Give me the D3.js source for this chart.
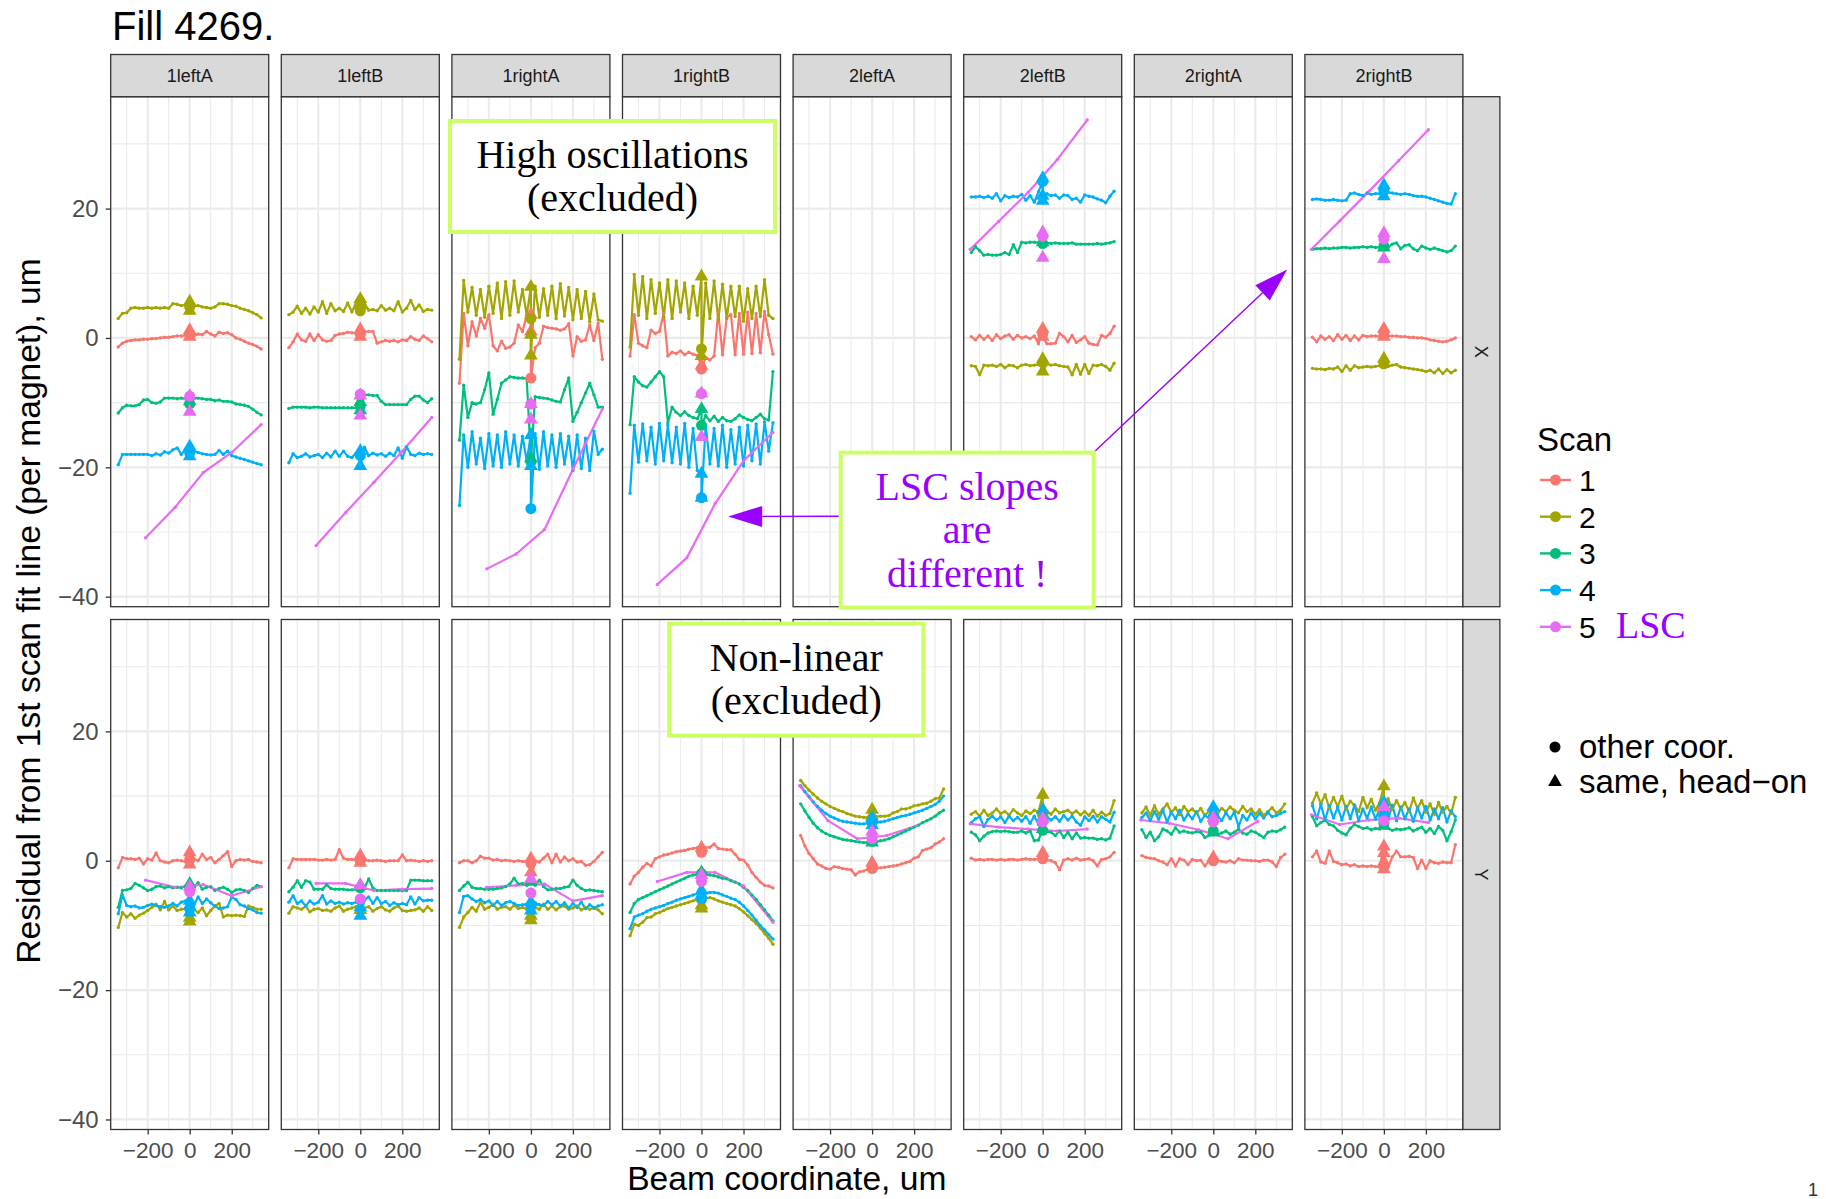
<!DOCTYPE html>
<html>
<head>
<meta charset="utf-8">
<script src="https://cdn.jsdelivr.net/npm/d3@7"></script>
<style>
  html, body { margin: 0; padding: 0; background: #ffffff; }
  svg { display: block; }
</style>
</head>
<body>
<svg id="chart" width="1826" height="1199"></svg>
<script>
// ---------------------------------------------------------------------------
// Fill 4269: residual of each BPM reading from the 1st-scan fit line,
// per magnet (columns) and per coordinate (rows), for five scans.
// ---------------------------------------------------------------------------

const MAGNETS = ["1leftA", "1leftB", "1rightA", "1rightB", "2leftA", "2leftB", "2rightA", "2rightB"];
const COORDS = ["X", "Y"];
const SCAN_LABELS = ["1", "2", "3", "4", "5"];
const SCAN_COLORS = ["#F8766D", "#A3A500", "#00BF7D", "#00B0F6", "#E76BF3"];
const SHAPE_LABELS = ["other coor.", "same, head\u2212on"];

const X_TICKS = [-200, 0, 200];
const X_MINOR = [-300, -100, 100, 300];
const Y_TICKS = [-40, -20, 0, 20];
const Y_MINOR = [-30, -10, 10, 30];

// Beam positions of the scan points (the head-on points at 0 are listed separately)
const BEAM_X = [-340, -320, -300, -280, -260, -240, -220, -200, -180, -160, -140, -120, -100, -80, -60, -40, -20,
                20, 40, 60, 80, 100, 120, 140, 160, 180, 200, 220, 240, 260, 280, 300, 320, 340];
// Length-scale calibration (scan 5) steps for the two groups of magnets
const LSC_X_1 = [-210, -70, 65, 200, 340];
const LSC_X_2 = [-345, -210, -70, 70, 212];

// ---- X coordinate --------------------------------------------------------
// each panel: scans 1..4 at BEAM_X; *_LSC: scan 5; *_ZERO: [scan, shape, residual] at beam 0
const X_1leftA = [
  [-1.4,-0.8,-0.5,-0.4,-0.3,-0.3,-0.2,-0.2,-0.1,-0.1,0.0,0.1,0.1,0.2,0.3,0.3,0.4, 0.3,0.6,0.5,1.0,0.6,0.3,0.9,0.7,0.8,0.5,0.0,-0.2,-0.5,-0.8,-1.0,-1.3,-1.7],
  [3.0,3.8,3.9,4.6,4.7,4.6,4.6,4.7,4.6,4.7,4.6,4.7,4.6,5.3,5.2,5.0,5.1, 4.9,5.0,4.8,4.7,4.6,4.8,5.3,5.3,5.2,5.0,4.9,4.6,4.4,4.2,3.9,3.6,3.1],
  [-11.6,-10.8,-10.4,-10.5,-10.5,-10.3,-9.6,-9.5,-10.0,-10.1,-9.9,-9.3,-9.3,-9.3,-9.4,-9.3,-9.4, -9.3,-9.3,-9.4,-9.5,-9.5,-9.7,-9.6,-9.8,-9.8,-9.9,-10.2,-10.3,-10.4,-10.6,-11.0,-11.5,-11.9],
  [-19.6,-18.0,-18.0,-18.0,-18.0,-18.0,-18.0,-18.0,-18.2,-17.9,-18.1,-17.6,-17.8,-17.3,-17.0,-18.0,-17.2, -17.5,-17.7,-17.9,-18.0,-18.1,-18.0,-17.4,-18.0,-17.5,-18.2,-18.4,-18.6,-18.8,-19.0,-19.2,-19.4,-19.6]
];
const X_1leftA_LSC = [-30.9, -26.2, -20.8, -17.7, -13.4];
const X_1leftA_ZERO = [[1,"t",1.2],[1,"c",0.5],[1,"t",0.2],[2,"t",5.6],[2,"c",4.8],[2,"t",4.2],[3,"t",-9.8],[3,"c",-10.2],
  [4,"t",-16.8],[4,"c",-17.8],[4,"t",-18.3],[5,"c",-9.0],[5,"t",-9.0],[5,"t",-11.4]];

const X_1leftB = [
  [-1.5,-0.6,0.6,-0.3,-0.5,0.6,-0.4,0.5,-0.3,-0.5,-0.4,0.4,0.6,0.7,0.9,0.8,0.7, 1.0,1.0,1.0,-0.8,-0.6,-0.4,-0.5,-0.4,-0.6,-0.3,-0.4,0.2,-0.2,-0.4,0.3,-0.1,-0.6],
  [3.6,4.0,4.9,3.8,4.6,3.7,4.8,4.0,5.6,3.8,5.3,4.2,4.6,4.1,5.4,4.0,5.5, 5.3,4.3,4.4,4.2,5.0,4.3,4.6,4.2,5.6,4.0,4.6,5.8,4.4,5.1,4.1,4.4,4.3],
  [-10.9,-10.7,-10.7,-10.7,-10.7,-10.8,-10.7,-10.7,-10.8,-10.8,-10.8,-10.8,-10.8,-10.8,-10.8,-10.8,-10.8, -8.8,-8.8,-8.9,-8.9,-9.8,-10.3,-10.3,-10.3,-10.3,-10.3,-10.3,-9.5,-9.0,-9.0,-9.6,-10.0,-9.4],
  [-19.3,-17.9,-18.5,-18.3,-17.9,-18.4,-18.2,-18.0,-18.5,-17.8,-18.4,-17.5,-18.3,-17.5,-18.3,-18.5,-17.8, -16.9,-18.2,-17.8,-18.1,-17.9,-18.3,-17.8,-18.2,-17.0,-18.6,-16.8,-18.0,-18.2,-17.8,-18.0,-17.9,-18.0]
];
const X_1leftB_LSC = [-32.1, -27.0, -22.3, -17.5, -12.3];
const X_1leftB_ZERO = [[1,"t",1.3],[1,"c",0.6],[1,"t",0.2],[2,"t",6.0],[2,"c",4.2],[2,"t",5.0],[3,"t",-9.9],[3,"c",-10.5],[3,"t",-11.2],
  [4,"t",-17.5],[4,"c",-18.2],[4,"t",-19.8],[5,"c",-8.7],[5,"t",-8.9],[5,"t",-12.0]];

const X_1rightA = [
  [-7.0,3.8,-1.2,2.5,0.3,3.0,1.5,3.6,-1.2,-2.0,-0.5,-1.6,-1.4,-0.8,2.0,1.0,3.5, -1.5,-0.8,1.8,1.6,1.5,1.4,1.2,1.4,2.2,-2.8,0.2,-0.5,-0.3,2.0,-0.4,2.3,-3.3],
  [-3.3,8.9,4.0,7.8,3.5,7.5,3.2,8.0,3.8,8.5,3.0,8.7,3.5,8.8,4.0,7.5,3.5, 8.0,3.2,7.6,3.5,8.0,3.0,8.4,3.4,7.8,2.8,7.5,3.0,7.2,2.5,6.8,2.8,2.6],
  [-15.8,-7.3,-12.3,-10.0,-10.2,-10.0,-8.0,-5.4,-11.8,-9.5,-7.0,-6.5,-6.0,-6.1,-6.2,-6.2,-6.3, -9.1,-9.2,-9.3,-9.4,-9.6,-9.8,-9.9,-8.0,-6.2,-12.9,-11.5,-10.0,-8.5,-7.0,-8.8,-10.7,-10.7],
  [-25.9,-15.0,-20.0,-14.5,-19.5,-15.5,-20.2,-14.8,-19.8,-15.0,-20.0,-14.5,-19.5,-15.0,-19.8,-15.2,-19.0, -14.8,-20.3,-14.5,-19.8,-15.0,-20.0,-14.8,-19.5,-15.2,-20.5,-15.0,-20.2,-15.5,-20.5,-14.4,-18.0,-17.2]
];
const X_1rightA_LSC = [-35.7, -33.4, -29.6, -20.3, -11.0];
const X_1rightA_ZERO = [[1,"t",3.6],[1,"t",1.0],[1,"c",-6.2],[2,"t",7.9],[2,"c",3.0],[2,"t",0.5],[2,"t",-2.7],[3,"t",-18.6],[3,"c",-19.2],
  [4,"t",-15.0],[4,"t",-19.8],[4,"c",-26.4],[5,"c",-10.2],[5,"t",-10.2],[5,"t",-12.6]];

const X_1rightB = [
  [-2.8,3.6,-0.8,-1.2,-1.5,1.2,0.7,1.0,3.8,-2.8,-2.2,-2.4,-2.0,-2.6,-2.2,-2.5,-2.7, -3.0,-3.4,-2.8,4.0,-2.6,3.2,3.6,-2.6,3.8,-2.5,4.0,-2.4,3.8,-2.3,4.1,0.5,-2.5],
  [-1.4,9.8,3.5,9.5,3.0,9.0,3.8,8.5,3.2,9.0,3.0,8.8,4.0,8.5,3.0,8.0,3.5, 8.5,3.0,8.8,2.8,8.3,3.0,8.0,3.3,8.0,2.6,7.6,3.0,8.0,3.3,9.0,3.5,3.0],
  [-13.4,-6.0,-6.8,-7.4,-7.6,-6.8,-6.0,-5.2,-6.0,-13.1,-10.7,-11.5,-12.0,-11.4,-12.0,-12.3,-12.5, -12.0,-12.8,-12.1,-12.9,-12.3,-12.8,-12.9,-12.5,-11.9,-12.3,-12.6,-12.8,-12.3,-11.8,-12.5,-12.7,-5.2],
  [-24.0,-13.5,-19.2,-13.3,-19.0,-13.8,-19.5,-13.2,-19.0,-13.5,-19.3,-13.8,-19.5,-13.2,-20.0,-14.0,-20.5, -13.5,-19.5,-14.0,-19.8,-13.5,-20.0,-14.2,-19.5,-13.8,-19.8,-13.5,-19.0,-13.3,-19.5,-13.0,-17.5,-13.1]
];
const X_1rightB_LSC = [-38.1, -34.0, -25.6, -19.0, -14.6];
const X_1rightB_ZERO = [[1,"t",-4.3],[1,"c",-4.8],[2,"t",9.5],[2,"c",-1.7],[2,"t",-2.8],[3,"t",-11.0],[3,"c",-13.5],
  [4,"t",-21.0],[4,"c",-24.7],[4,"t",-24.7],[5,"c",-8.6],[5,"t",-8.6],[5,"t",-15.3]];

const X_2leftB = [
  [0.2,-0.3,0.4,-0.2,0.3,-0.4,0.5,-0.1,0.3,0.5,-0.2,0.4,0.0,0.2,-0.1,0.3,-0.9, -0.9,-0.9,-0.8,0.7,0.2,-0.6,0.4,-0.7,-0.3,0.2,-0.8,-1.0,-1.1,0.4,0.1,0.7,1.8],
  [-4.3,-4.4,-5.7,-4.2,-4.3,-4.2,-4.4,-4.1,-4.6,-4.2,-4.3,-4.6,-4.2,-4.1,-4.3,-4.2,-4.1, -4.0,-4.2,-4.1,-4.3,-4.4,-4.5,-5.7,-4.1,-5.6,-4.1,-5.5,-4.2,-4.3,-4.1,-4.4,-5.0,-3.9],
  [13.2,14.1,13.5,12.8,12.9,12.8,12.8,12.9,13.2,12.9,14.4,13.2,14.8,14.7,14.8,14.8,14.7, 14.7,14.6,14.7,14.6,14.6,14.6,14.7,14.5,14.5,14.5,14.5,14.5,14.6,14.5,14.6,14.7,14.9],
  [21.8,21.8,21.9,21.7,21.9,21.6,22.3,21.2,22.0,21.7,21.9,21.8,22.2,21.3,22.0,21.0,22.6, 22.3,22.0,22.1,21.6,22.1,22.0,21.4,21.6,21.0,22.1,21.9,21.8,21.5,21.3,20.9,21.9,22.7]
];
const X_2leftB_LSC = [13.7, 18.0, 22.5, 27.6, 33.7];
const X_2leftB_ZERO = [[1,"t",1.4],[1,"c",0.6],[1,"t",0.2],[2,"t",-3.3],[2,"c",-3.8],[2,"t",-5.2],[3,"t",14.8],[3,"c",14.6],
  [4,"c",24.2],[4,"t",24.7],[4,"t",22.0],[4,"t",21.2],[5,"t",16.3],[5,"c",15.7],[5,"t",12.4]];

const X_2rightB = [
  [0.1,-0.6,0.3,-0.2,0.2,-0.4,0.5,-0.2,0.4,-0.4,0.3,-0.3,0.4,0.2,0.3,0.3,0.2, 0.3,0.3,0.3,0.2,0.2,0.1,0.1,0.0,0.0,-0.1,-0.3,-0.4,-0.5,-0.6,-0.5,-0.3,0.0],
  [-4.7,-4.8,-4.8,-4.9,-4.7,-4.8,-4.5,-5.2,-4.3,-5.0,-4.3,-4.6,-4.5,-4.4,-4.5,-4.4,-4.3, -4.4,-4.2,-4.1,-4.5,-4.6,-4.7,-4.8,-4.9,-5.0,-5.2,-5.0,-5.4,-4.8,-5.5,-4.9,-5.4,-5.0],
  [13.7,13.8,13.8,13.9,13.8,13.9,13.9,14.0,14.0,13.9,14.0,14.0,14.1,14.0,14.1,14.0,14.0, 14.0,14.5,14.7,13.8,14.3,14.4,13.8,13.5,14.2,13.9,13.7,13.9,13.7,13.5,13.3,13.5,14.2],
  [21.4,21.5,21.4,21.3,21.3,21.4,21.3,21.2,21.3,22.3,22.4,22.2,22.0,22.4,22.2,22.3,22.3, 22.5,22.4,22.3,22.2,22.3,22.2,22.0,21.9,21.9,21.8,21.6,21.4,21.2,21.0,20.8,20.7,22.3]
];
const X_2rightB_LSC = [13.7, 18.1, 22.7, 27.4, 32.2];
const X_2rightB_ZERO = [[1,"t",1.4],[1,"c",0.6],[1,"t",0.2],[2,"t",-3.2],[2,"c",-4.0],[3,"t",14.0],[3,"c",14.2],
  [4,"t",23.6],[4,"c",22.8],[4,"t",21.9],[5,"t",16.2],[5,"c",15.3],[5,"t",12.2]];

// ---- Y coordinate --------------------------------------------------------
const Y_1leftA = [
  [-1.1,0.5,0.3,0.3,0.2,0.4,-0.5,0.3,0.1,1.2,0.0,-0.2,-0.3,0.0,0.1,0.0,-0.2, 0.3,0.0,1.0,0.2,0.5,-0.3,0.2,0.8,1.4,-0.9,0.0,0.2,0.1,0.2,-0.1,-0.2,-0.3],
  [-10.3,-8.0,-8.7,-8.2,-8.9,-8.4,-8.1,-7.7,-7.2,-6.7,-7.6,-6.3,-7.6,-7.0,-7.7,-7.5,-7.4, -7.5,-8.0,-7.3,-8.5,-7.7,-7.0,-6.6,-8.7,-8.4,-8.5,-8.4,-8.5,-8.6,-7.0,-7.2,-7.5,-7.5],
  [-7.2,-4.6,-4.5,-4.3,-3.5,-3.8,-4.2,-4.6,-4.4,-4.0,-3.9,-4.2,-4.0,-4.2,-4.1,-4.2,-3.9, -4.1,-3.4,-4.4,-4.1,-4.0,-4.6,-4.3,-4.1,-4.4,-4.9,-4.5,-4.4,-4.6,-4.9,-4.3,-3.8,-4.0],
  [-8.2,-5.3,-6.9,-7.1,-7.0,-7.3,-7.2,-6.9,-6.7,-6.9,-7.1,-7.2,-7.0,-6.6,-7.0,-6.4,-6.2, -6.8,-5.6,-6.6,-5.9,-6.5,-7.0,-7.4,-7.3,-7.1,-5.6,-6.0,-6.8,-7.0,-7.4,-7.6,-8.0,-8.1]
];
const Y_1leftA_LSC = [-3.0, -4.1, -3.7, -5.4, -4.0];
const Y_1leftA_ZERO = [[1,"t",1.3],[1,"c",0.2],[1,"t",-0.6],[2,"t",-8.8],[2,"t",-9.4],[3,"t",-3.6],[3,"c",-4.2],
  [4,"t",-6.2],[4,"t",-7.0],[4,"c",-7.4],[4,"t",-8.0],[5,"t",-4.0],[5,"c",-4.8]];

const Y_1leftB = [
  [-1.1,0.3,0.2,0.2,0.2,0.2,0.2,0.1,0.1,0.2,0.1,0.2,1.7,0.4,0.2,0.2,0.1, 0.1,0.0,0.0,0.1,0.0,-0.1,0.0,0.0,0.0,0.9,0.0,0.1,0.0,-0.1,0.0,-0.1,0.0],
  [-8.1,-7.1,-7.3,-7.5,-7.0,-7.9,-7.5,-7.4,-7.7,-7.6,-7.8,-7.3,-7.0,-7.8,-7.5,-7.3,-7.1, -7.3,-7.1,-7.8,-7.4,-7.1,-7.6,-7.8,-7.3,-7.0,-7.7,-7.8,-7.7,-7.6,-7.3,-7.8,-7.1,-7.7],
  [-4.8,-4.1,-3.1,-4.1,-3.1,-3.3,-4.4,-4.4,-4.4,-3.7,-4.3,-4.4,-4.4,-4.4,-4.5,-4.5,-4.4, -4.2,-2.8,-4.2,-4.6,-4.6,-4.6,-4.6,-4.6,-4.6,-4.6,-4.6,-3.0,-3.0,-3.0,-3.1,-3.1,-3.1],
  [-6.4,-5.4,-6.6,-6.2,-7.0,-6.2,-6.7,-6.4,-5.4,-6.7,-6.2,-6.6,-6.4,-6.7,-6.5,-6.6,-6.4, -6.1,-5.6,-6.6,-5.7,-6.6,-6.3,-6.9,-6.5,-6.8,-6.6,-6.8,-5.6,-6.7,-5.7,-6.2,-6.1,-6.1]
];
const Y_1leftB_LSC = [-3.5, -3.5, -4.6, -4.4, -4.3];
const Y_1leftB_ZERO = [[1,"t",0.8],[1,"c",0.0],[1,"t",-0.3],[2,"t",-7.6],[3,"t",-3.8],[3,"c",-4.2],
  [4,"c",-6.0],[4,"t",-7.2],[4,"t",-8.5],[5,"t",-3.8],[5,"c",-5.9]];

const Y_1rightA = [
  [-0.3,0.0,0.0,-0.3,0.0,0.7,0.4,0.4,0.1,0.2,0.0,0.1,0.0,-0.1,0.0,-0.1,-0.1, 0.0,-0.2,0.4,1.0,-0.3,1.0,-0.2,0.6,0.0,0.3,-0.2,-0.1,-0.7,-0.6,-0.1,0.6,1.3],
  [-10.3,-8.7,-8.0,-7.2,-7.8,-6.4,-7.5,-7.2,-6.7,-7.5,-7.2,-7.1,-7.5,-6.9,-7.4,-7.2,-7.5, -7.2,-7.5,-6.7,-7.5,-7.0,-7.6,-7.1,-7.0,-7.5,-7.3,-7.0,-7.6,-7.2,-7.5,-7.3,-7.6,-8.2],
  [-4.6,-3.9,-3.3,-4.1,-4.3,-4.3,-4.4,-4.4,-4.4,-4.3,-4.2,-4.0,-3.6,-2.7,-3.6,-3.5,-3.8, -3.8,-3.0,-4.0,-4.5,-4.4,-4.3,-4.3,-4.1,-4.0,-3.0,-3.8,-4.3,-4.6,-4.5,-4.6,-4.7,-4.8],
  [-8.0,-5.5,-5.4,-5.9,-6.3,-6.0,-6.5,-6.2,-6.9,-6.3,-6.9,-6.5,-6.3,-6.6,-6.9,-6.8,-6.7, -6.5,-6.8,-6.9,-6.3,-6.8,-6.3,-7.0,-6.5,-7.3,-6.6,-7.2,-6.4,-7.4,-6.8,-7.3,-7.0,-6.8]
];
const Y_1rightA_LSC = [-4.1, -3.8, -3.6, -6.2, -5.4];
const Y_1rightA_ZERO = [[1,"t",0.3],[1,"c",-0.4],[1,"t",-1.8],[1,"t",-3.0],[2,"t",-8.5],[2,"t",-9.2],[3,"t",-3.2],
  [4,"t",-6.4],[4,"c",-7.0],[4,"t",-7.7],[5,"t",-2.8],[5,"c",-5.0]];

const Y_1rightB = [
  [-3.6,-2.4,-1.8,-1.0,-0.4,-0.8,0.3,0.6,0.9,1.0,1.2,1.4,1.5,1.6,1.8,1.9,2.0, 2.0,2.1,2.6,1.9,1.8,1.7,1.7,1.0,0.2,0.1,-0.7,-1.8,-2.6,-3.3,-3.8,-3.9,-4.2],
  [-11.6,-9.8,-10.0,-9.5,-8.8,-8.7,-8.2,-8.0,-7.7,-7.4,-7.2,-7.0,-6.8,-6.6,-6.4,-6.2,-6.0, -5.8,-5.7,-5.9,-6.2,-6.4,-6.6,-6.8,-7.0,-7.4,-7.9,-8.5,-9.1,-9.7,-10.4,-11.2,-12.0,-12.9],
  [-8.0,-6.6,-6.0,-5.7,-5.4,-5.1,-4.8,-4.5,-4.2,-3.9,-3.6,-3.3,-3.0,-2.7,-2.4,-2.2,-2.1, -2.0,-2.2,-2.3,-2.5,-2.7,-2.8,-3.1,-3.3,-3.6,-4.1,-4.6,-5.3,-6.0,-6.8,-7.6,-8.4,-9.3],
  [-10.5,-8.7,-8.4,-8.2,-7.8,-7.5,-7.3,-7.1,-6.9,-6.6,-6.4,-6.1,-5.9,-5.7,-5.5,-5.3,-5.1, -5.0,-4.9,-4.9,-5.0,-5.3,-5.5,-5.8,-6.0,-6.4,-7.0,-7.7,-8.4,-9.2,-10.0,-10.7,-11.4,-12.1]
];
const Y_1rightB_LSC = [-3.2, -1.8, -1.8, -3.9, -9.5];
const Y_1rightB_ZERO = [[1,"t",2.0],[1,"c",1.3],[2,"t",-6.9],[2,"c",-6.0],[2,"t",-7.4],[3,"t",-1.8],[3,"c",-2.0],
  [4,"t",-4.6],[4,"t",-5.3],[4,"c",-5.8],[5,"t",-2.2],[5,"c",-3.2]];

const Y_2leftA = [
  [3.9,2.3,1.1,0.3,-0.5,-0.8,-1.2,-1.3,-0.9,-1.0,-1.2,-1.3,-1.4,-2.2,-1.7,-1.6,-1.3, -1.2,-1.1,-1.0,-0.9,-0.8,-0.7,-0.5,-0.3,-0.1,0.4,0.6,1.6,1.8,2.0,2.6,2.9,3.4],
  [12.4,11.6,10.9,10.3,9.7,9.2,8.8,8.4,8.1,7.8,7.6,7.3,7.1,6.9,6.8,6.7,6.7, 6.8,6.9,6.9,7.0,7.4,7.6,8.0,8.0,8.2,8.5,8.6,8.8,8.9,9.2,9.6,9.7,11.1],
  [8.8,7.7,6.7,5.8,5.1,4.6,4.2,3.9,3.7,3.5,3.3,3.2,3.1,3.0,2.9,2.8,2.8, 2.9,3.1,3.2,3.4,3.7,4.0,4.3,4.6,4.9,5.2,5.5,5.9,6.2,6.5,6.9,7.4,7.8],
  [11.6,10.7,9.9,9.1,8.4,7.8,7.3,6.9,6.6,6.3,6.1,6.0,5.9,5.8,5.7,5.7,5.8, 5.9,6.0,6.1,6.3,6.5,6.7,6.9,7.0,7.2,7.4,7.6,7.8,8.1,8.4,8.7,9.2,10.0]
];
const Y_2leftA_LSC = [11.6, 6.2, 3.4, 3.9, 5.4];
const Y_2leftA_ZERO = [[1,"t",-0.3],[1,"c",-1.2],[2,"t",7.9],[2,"t",6.9],[3,"t",2.8],[3,"c",3.0],
  [4,"t",6.6],[4,"c",6.0],[4,"t",5.5],[5,"t",4.5],[5,"c",3.4]];

const Y_2leftB = [
  [0.4,0.1,0.2,0.1,0.2,0.2,0.1,0.2,0.1,0.2,0.2,0.1,0.2,0.3,0.2,0.2,0.3, 0.1,0.0,-0.3,-1.4,0.1,0.3,0.1,0.4,0.1,0.2,0.3,0.0,-0.8,0.2,0.3,0.6,1.3],
  [7.2,7.6,6.9,7.8,7.0,7.4,8.0,7.3,7.6,7.1,7.9,7.4,7.0,7.7,7.3,7.8,7.5, 7.7,7.2,8.0,7.4,7.6,7.8,7.3,7.7,7.1,7.6,7.0,7.8,6.9,7.5,7.0,7.3,9.3],
  [4.4,4.0,3.1,3.8,4.3,4.5,4.6,4.5,4.6,4.5,4.4,4.4,4.6,4.3,4.6,3.1,3.2, 4.6,4.4,3.9,4.6,3.6,4.4,3.4,4.3,3.5,3.6,3.5,3.5,3.3,3.4,3.2,3.5,5.4],
  [5.9,6.5,6.8,5.3,6.4,6.9,6.3,6.8,5.9,6.9,6.2,6.7,6.1,6.8,5.8,6.9,5.6, 6.8,6.3,6.8,6.1,7.0,6.3,6.9,6.0,5.5,6.8,6.2,6.9,6.0,6.8,6.4,6.0,7.5]
];
const Y_2leftB_LSC = [5.7, 5.2, 4.9, 4.6, 4.9];
const Y_2leftB_ZERO = [[1,"t",1.2],[1,"c",0.3],[2,"t",10.2],[2,"t",8.0],[2,"c",7.0],[3,"t",4.9],[3,"c",4.7],
  [4,"t",7.8],[4,"t",6.6],[4,"c",6.2],[5,"t",6.5],[5,"c",6.0]];

const Y_2rightA = [
  [0.8,0.5,0.4,0.3,0.0,-0.2,-0.6,0.3,-0.8,0.3,0.1,-0.6,0.2,0.0,0.1,-0.8,0.0, 0.0,-0.1,-0.2,0.0,-0.3,0.3,0.1,0.1,0.0,0.0,-0.1,0.1,0.1,-0.2,-0.9,0.5,1.0],
  [7.4,8.3,7.0,8.5,7.2,8.0,8.8,7.5,8.2,7.1,8.4,7.6,8.0,7.3,8.1,7.0,7.7, 7.3,8.1,7.6,8.3,7.8,7.4,8.4,7.6,8.0,7.2,7.9,7.0,7.6,8.2,7.4,7.8,8.8],
  [4.8,3.6,4.4,3.1,3.7,4.9,4.6,4.1,5.1,4.4,4.6,4.4,4.3,4.5,4.4,3.6,3.9, 4.1,4.3,4.6,4.1,4.4,4.9,4.3,4.1,4.6,4.4,4.0,3.6,4.4,4.6,4.5,4.8,5.2],
  [6.7,7.4,6.2,7.6,6.4,7.8,6.0,7.5,6.5,7.8,6.3,7.2,6.5,7.6,6.1,7.0,6.6, 7.0,6.2,7.4,6.5,7.5,5.3,7.0,6.3,7.4,6.5,7.3,6.6,7.5,6.8,7.0,7.3,7.6]
];
const Y_2rightA_LSC = [6.3, 5.8, 4.8, 3.4, 6.1];
const Y_2rightA_ZERO = [[1,"t",0.5],[1,"c",0.0],[2,"t",8.0],[3,"t",4.4],[3,"c",4.6],
  [4,"t",8.3],[4,"t",7.2],[4,"c",6.8],[5,"t",6.6],[5,"c",6.0]];

const Y_2rightB = [
  [0.6,1.5,-0.2,-0.4,1.5,-0.1,-0.3,-0.6,-0.5,-0.8,-0.6,-0.9,-0.8,-0.9,-0.8,-0.9,-1.0, -1.0,0.6,1.5,0.6,0.6,0.7,0.5,-1.2,0.1,-1.2,0.0,-0.3,-0.4,-0.2,-0.3,-0.3,2.5],
  [8.9,10.5,8.8,10.2,8.2,9.8,8.4,10.0,8.0,9.2,8.6,7.6,9.8,8.2,9.5,7.8,9.0, 9.6,7.9,9.3,8.0,9.0,7.6,9.7,8.1,9.3,7.5,8.8,7.2,9.0,7.5,8.4,7.3,9.8],
  [6.8,5.4,5.9,6.3,5.6,5.4,4.7,4.3,4.0,5.0,5.6,5.3,5.0,5.1,4.8,5.0,4.9, 5.0,4.7,4.9,4.8,4.9,5.1,4.6,4.9,5.2,4.4,5.0,4.2,5.3,4.7,3.1,4.5,6.3],
  [8.5,6.5,8.7,6.3,8.5,6.6,8.3,6.3,8.4,6.5,8.6,6.2,8.0,6.6,8.3,6.4,8.1, 6.4,8.6,6.2,8.3,6.5,8.0,6.1,8.2,6.6,8.4,6.3,8.0,6.5,8.2,6.0,7.7,6.8]
];
const Y_2rightB_LSC = [7.1, 5.6, 6.3, 6.6, 5.9];
const Y_2rightB_ZERO = [[1,"t",2.2],[1,"t",1.2],[1,"t",-0.2],[1,"t",-1.3],[2,"t",11.5],[2,"t",8.5],[2,"c",7.4],[3,"t",5.4],[3,"c",5.8],
  [4,"t",9.0],[4,"t",7.4],[4,"c",6.6],[5,"t",8.3],[5,"c",6.2]];

// Panel lookup (X rows of 2leftA and 2rightA hold no data)
const PANEL_DATA = {
  "X|1leftA": [X_1leftA, X_1leftA_LSC, X_1leftA_ZERO],
  "X|1leftB": [X_1leftB, X_1leftB_LSC, X_1leftB_ZERO],
  "X|1rightA": [X_1rightA, X_1rightA_LSC, X_1rightA_ZERO],
  "X|1rightB": [X_1rightB, X_1rightB_LSC, X_1rightB_ZERO],
  "X|2leftB": [X_2leftB, X_2leftB_LSC, X_2leftB_ZERO],
  "X|2rightB": [X_2rightB, X_2rightB_LSC, X_2rightB_ZERO],
  "Y|1leftA": [Y_1leftA, Y_1leftA_LSC, Y_1leftA_ZERO],
  "Y|1leftB": [Y_1leftB, Y_1leftB_LSC, Y_1leftB_ZERO],
  "Y|1rightA": [Y_1rightA, Y_1rightA_LSC, Y_1rightA_ZERO],
  "Y|1rightB": [Y_1rightB, Y_1rightB_LSC, Y_1rightB_ZERO],
  "Y|2leftA": [Y_2leftA, Y_2leftA_LSC, Y_2leftA_ZERO],
  "Y|2leftB": [Y_2leftB, Y_2leftB_LSC, Y_2leftB_ZERO],
  "Y|2rightA": [Y_2rightA, Y_2rightA_LSC, Y_2rightA_ZERO],
  "Y|2rightB": [Y_2rightB, Y_2rightB_LSC, Y_2rightB_ZERO]
};

// ---------------------------------------------------------------------------
// Layout and style
// ---------------------------------------------------------------------------
const SANS = "'Liberation Sans', Arial, Helvetica, sans-serif";
const SERIF = "'Liberation Serif', 'Times New Roman', Times, serif";
const LAYOUT = {
  left0: 110.7, step: 170.6, panelW: 158,
  rowTop: [96.7, 619.5], panelH: 510,
  stripTop: 54.5, stripRightW: 37
};
const X_DOMAIN = [-376, 376];
const Y_DOMAIN = [-41.55, 37.3];
const GRID = "#EBEBEB", BORDER = "#333333", STRIP_FILL = "#D9D9D9";
const ACCENT = "#9900FF", NOTE_BORDER = "#CCFF66";

const svg = d3.select("#chart");
svg.append("rect").attr("width", 1826).attr("height", 1199).attr("fill", "#ffffff");

const triangle = d3.symbol().type(d3.symbolTriangle).size(82);
const bigDot = d3.symbol().type(d3.symbolCircle).size(95);
const line = d3.line();
const panelScales = {};

MAGNETS.forEach((mag, i) => {
  COORDS.forEach((coord, r) => {
    const x0 = LAYOUT.left0 + i * LAYOUT.step;
    const y0 = LAYOUT.rowTop[r];
    const x = d3.scaleLinear().domain(X_DOMAIN).range([x0, x0 + LAYOUT.panelW]);
    const y = d3.scaleLinear().domain(Y_DOMAIN).range([y0 + LAYOUT.panelH, y0]);
    panelScales[coord + "|" + mag] = { x, y };

    const g = svg.append("g").attr("class", "panel");
    g.append("rect").attr("x", x0).attr("y", y0).attr("width", LAYOUT.panelW).attr("height", LAYOUT.panelH).attr("fill", "#fff");

    // grid: minor then major
    g.selectAll(null).data(X_MINOR).enter().append("line")
      .attr("x1", d => x(d)).attr("x2", d => x(d)).attr("y1", y0).attr("y2", y0 + LAYOUT.panelH)
      .attr("stroke", GRID).attr("stroke-width", 1.1);
    g.selectAll(null).data(Y_MINOR).enter().append("line")
      .attr("y1", d => y(d)).attr("y2", d => y(d)).attr("x1", x0).attr("x2", x0 + LAYOUT.panelW)
      .attr("stroke", GRID).attr("stroke-width", 1.1);
    g.selectAll(null).data(X_TICKS).enter().append("line")
      .attr("x1", d => x(d)).attr("x2", d => x(d)).attr("y1", y0).attr("y2", y0 + LAYOUT.panelH)
      .attr("stroke", GRID).attr("stroke-width", 2.2);
    g.selectAll(null).data(Y_TICKS).enter().append("line")
      .attr("y1", d => y(d)).attr("y2", d => y(d)).attr("x1", x0).attr("x2", x0 + LAYOUT.panelW)
      .attr("stroke", GRID).attr("stroke-width", 2.2);

    const entry = PANEL_DATA[coord + "|" + mag];
    if (entry) {
      const [scans, lsc, zero] = entry;
      const lscX = mag.startsWith("1") ? LSC_X_1 : LSC_X_2;
      const dots = [];
      // scans 1..4: left half, the head-on points at 0, right half
      scans.forEach((vals, k) => {
        const pts = [];
        for (let j = 0; j < 17; j++) pts.push([BEAM_X[j], vals[j]]);
        zero.filter(z => z[0] === k + 1).forEach(z => pts.push([0, z[2]]));
        for (let j = 17; j < BEAM_X.length; j++) pts.push([BEAM_X[j], vals[j]]);
        const px = pts.map(p => [x(p[0]), y(p[1])]);
        g.append("path").attr("d", line(px)).attr("fill", "none")
          .attr("stroke", SCAN_COLORS[k]).attr("stroke-width", 2.2).attr("stroke-linejoin", "round");
        px.forEach(p => dots.push([p[0], p[1], k]));
      });
      // scan 5 (LSC)
      const lpx = lsc.map((v, j) => [x(lscX[j]), y(v)]);
      g.append("path").attr("d", line(lpx)).attr("fill", "none")
        .attr("stroke", SCAN_COLORS[4]).attr("stroke-width", 2.2).attr("stroke-linejoin", "round");
      lpx.forEach(p => dots.push([p[0], p[1], 4]));

      g.selectAll(null).data(dots).enter().append("circle")
        .attr("cx", d => d[0]).attr("cy", d => d[1]).attr("r", 1.7)
        .attr("fill", d => SCAN_COLORS[d[2]]);

      // head-on markers at beam 0
      const ordered = zero.slice().sort((a, b) => a[0] - b[0]);
      g.selectAll(null).data(ordered).enter().append("path")
        .attr("d", d => d[1] === "t" ? triangle() : bigDot())
        .attr("transform", d => `translate(${x(0)},${y(d[2])})`)
        .attr("fill", d => SCAN_COLORS[d[0] - 1]);
    }

    g.append("rect").attr("x", x0).attr("y", y0).attr("width", LAYOUT.panelW).attr("height", LAYOUT.panelH)
      .attr("fill", "none").attr("stroke", BORDER).attr("stroke-width", 1.3);

    // column strip
    if (r === 0) {
      g.append("rect").attr("x", x0).attr("y", LAYOUT.stripTop).attr("width", LAYOUT.panelW)
        .attr("height", y0 - LAYOUT.stripTop).attr("fill", STRIP_FILL).attr("stroke", BORDER).attr("stroke-width", 1.3);
      g.append("text").attr("x", x0 + LAYOUT.panelW / 2).attr("y", (LAYOUT.stripTop + y0) / 2 + 6.5)
        .attr("text-anchor", "middle").attr("font-family", SANS).attr("font-size", 18).attr("fill", "#1A1A1A")
        .text(mag);
    }
    // row strip
    if (i === MAGNETS.length - 1) {
      const sx = x0 + LAYOUT.panelW;
      g.append("rect").attr("x", sx).attr("y", y0).attr("width", LAYOUT.stripRightW).attr("height", LAYOUT.panelH)
        .attr("fill", STRIP_FILL).attr("stroke", BORDER).attr("stroke-width", 1.3);
      g.append("text").attr("transform", `translate(${sx + LAYOUT.stripRightW / 2 - 6.5},${y0 + LAYOUT.panelH / 2}) rotate(90)`)
        .attr("text-anchor", "middle").attr("font-family", SANS).attr("font-size", 18).attr("fill", "#1A1A1A")
        .text(coord);
    }
    // axes
    if (r === 1) {
      const ax = g.append("g").attr("transform", `translate(0,${y0 + LAYOUT.panelH})`)
        .call(d3.axisBottom(x).tickValues(X_TICKS).tickSizeInner(5).tickSizeOuter(0).tickPadding(8));
      styleAxis(ax, 22.5);
    }
    if (i === 0) {
      const ay = g.append("g").attr("transform", `translate(${x0},0)`)
        .call(d3.axisLeft(y).tickValues(Y_TICKS).tickSizeInner(5).tickSizeOuter(0).tickPadding(7));
      styleAxis(ay, 24);
    }
  });
});

function styleAxis(a, size) {
  a.select(".domain").remove();
  a.selectAll(".tick line").attr("stroke", BORDER).attr("stroke-width", 1.3);
  a.selectAll(".tick text").attr("font-family", SANS).attr("font-size", size).attr("fill", "#4D4D4D");
}

// titles
svg.append("text").attr("x", 112).attr("y", 40).attr("font-family", SANS).attr("font-size", 40)
  .attr("fill", "#000").text("Fill 4269.");
svg.append("text").attr("x", (LAYOUT.left0 + LAYOUT.left0 + 7 * LAYOUT.step + LAYOUT.panelW) / 2).attr("y", 1190)
  .attr("text-anchor", "middle").attr("font-family", SANS).attr("font-size", 33.6).attr("fill", "#000")
  .text("Beam coordinate, um");
svg.append("text").attr("transform", "translate(40,611) rotate(-90)")
  .attr("text-anchor", "middle").attr("font-family", SANS).attr("font-size", 33.6).attr("fill", "#000")
  .text("Residual from 1st scan fit line (per magnet), um");

// colour legend
const leg = svg.append("g");
leg.append("text").attr("x", 1537).attr("y", 451).attr("font-family", SANS).attr("font-size", 33).text("Scan");
SCAN_LABELS.forEach((lab, k) => {
  const cy = 480 + k * 36.7;
  leg.append("line").attr("x1", 1540).attr("x2", 1571).attr("y1", cy).attr("y2", cy)
    .attr("stroke", SCAN_COLORS[k]).attr("stroke-width", 2.4);
  leg.append("circle").attr("cx", 1555.5).attr("cy", cy).attr("r", 5.5).attr("fill", SCAN_COLORS[k]);
  leg.append("text").attr("x", 1579).attr("y", cy + 10.8).attr("font-family", SANS).attr("font-size", 30).text(lab);
});
leg.append("text").attr("x", 1616).attr("y", 638).attr("font-family", SERIF).attr("font-size", 38)
  .attr("fill", ACCENT).text("LSC");

// shape legend
leg.append("path").attr("d", bigDot()).attr("transform", "translate(1555,747)").attr("fill", "#000");
leg.append("text").attr("x", 1579).attr("y", 758).attr("font-family", SANS).attr("font-size", 33).text(SHAPE_LABELS[0]);
leg.append("path").attr("d", triangle()).attr("transform", "translate(1555,782)").attr("fill", "#000");
leg.append("text").attr("x", 1579).attr("y", 793).attr("font-family", SANS).attr("font-size", 33).text(SHAPE_LABELS[1]);

// annotation notes
function note(x, y, w, h, lines, baselines, color) {
  const g = svg.append("g");
  g.append("rect").attr("x", x).attr("y", y).attr("width", w).attr("height", h)
    .attr("fill", "#fff").attr("stroke", NOTE_BORDER).attr("stroke-width", 4);
  lines.forEach((t, j) => g.append("text").attr("x", x + w / 2).attr("y", baselines[j])
    .attr("text-anchor", "middle").attr("font-family", SERIF).attr("font-size", 40).attr("fill", color).text(t));
}
function arrow(tail, tip) {
  const dx = tip[0] - tail[0], dy = tip[1] - tail[1];
  const len = Math.hypot(dx, dy), ux = dx / len, uy = dy / len;
  const hl = 34, hw = 10.5;
  const bx = tip[0] - ux * hl, by = tip[1] - uy * hl;
  svg.append("line").attr("x1", tail[0]).attr("y1", tail[1]).attr("x2", bx).attr("y2", by)
    .attr("stroke", ACCENT).attr("stroke-width", 1.4);
  svg.append("path").attr("d", `M${tip[0]},${tip[1]}L${bx - uy * hw},${by + ux * hw}L${bx + uy * hw},${by - ux * hw}Z`)
    .attr("fill", ACCENT);
}

note(450, 121, 325, 111, ["High oscillations", "(excluded)"], [167.5, 210.5], "#000");
note(669.2, 623.7, 254.2, 112, ["Non-linear", "(excluded)"], [670.7, 713.8], "#000");

const s1 = panelScales["X|1rightB"], s2 = panelScales["X|2rightA"];
arrow([840.7, 516.3], [s1.x(127), s1.y(-27.6)]);
arrow([1093.6, 452.6], [s2.x(352), s2.y(10.6)]);
note(840.7, 452.6, 253, 155, ["LSC slopes", "are", "different !"], [499.5, 543, 587], ACCENT);

// page number in the corner
svg.append("text").attr("x", 1808).attr("y", 1196).attr("font-family", SANS).attr("font-size", 18)
  .attr("fill", "#333").text("1");
</script>
</body>
</html>
